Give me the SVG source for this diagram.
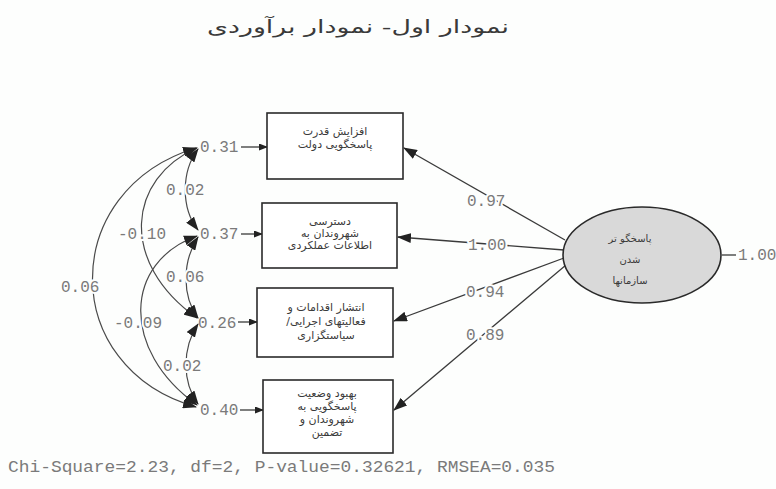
<svg xmlns="http://www.w3.org/2000/svg" width="776" height="489" viewBox="0 0 776 489">
  <style>
    .bg { fill: #fdfefd; }
    .box { fill: #ffffff; stroke: #2a2a2a; stroke-width: 1.6; }
    .fa { font-family: "DejaVu Sans", "Noto Sans", sans-serif; fill: #3a3a3a; text-anchor: middle; direction: rtl; }
    .num { font-family: "Liberation Mono", "DejaVu Sans Mono", monospace; font-size: 16px; fill: #7a7a7a; }
    .halo { paint-order: stroke; stroke: #fdfefd; stroke-width: 4px; stroke-linejoin: round; }
    .edge { fill: none; stroke: #3a3a3a; stroke-width: 1.3; }
    .cov { fill: none; stroke: #4a4a4a; stroke-width: 1.2; }
  </style>
  <defs>
    <marker id="head" markerUnits="userSpaceOnUse" markerWidth="14" markerHeight="10" refX="13" refY="5" orient="auto-start-reverse">
      <path d="M0,0 L14,5 L0,10 Z" fill="#222"/>
    </marker>
    <marker id="small" markerUnits="userSpaceOnUse" markerWidth="9" markerHeight="7" refX="8" refY="3.5" orient="auto">
      <path d="M0,0 L9,3.5 L0,7 Z" fill="#222"/>
    </marker>
  </defs>

  <rect class="bg" x="0" y="0" width="776" height="489"/>

  <text class="fa" x="358" y="33" font-size="18" fill="#555" textLength="302" lengthAdjust="spacingAndGlyphs">نمودار اول- نمودار برآوردی</text>

  <!-- connectors -->
  <g id="connectors">
    <!-- loadings from the latent factor -->
    <line class="edge" x1="565" y1="240" x2="404" y2="148" marker-end="url(#head)"/>
    <line class="edge" x1="564" y1="250" x2="398" y2="237" marker-end="url(#head)"/>
    <line class="edge" x1="564" y1="258" x2="394" y2="321" marker-end="url(#head)"/>
    <line class="edge" x1="566" y1="265" x2="394" y2="410" marker-end="url(#head)"/>
    <line class="edge" x1="722" y1="255" x2="736" y2="255"/>

    <!-- error terms -->
    <line class="edge" x1="241" y1="147" x2="267" y2="147" marker-end="url(#small)"/>
    <line class="edge" x1="241" y1="234" x2="262" y2="234" marker-end="url(#small)"/>
    <line class="edge" x1="238" y1="322" x2="257" y2="322" marker-end="url(#small)"/>
    <line class="edge" x1="240" y1="410" x2="263" y2="410" marker-end="url(#small)"/>

    <!-- error covariances -->
    <path class="cov" d="M196,148 C58,190 58,368 196,407" marker-start="url(#head)" marker-end="url(#head)"/>
    <path class="cov" d="M197,148 C128,178 118,262 197,318" marker-start="url(#head)" marker-end="url(#head)"/>
    <path class="cov" d="M197,236 C124,262 120,350 197,405" marker-start="url(#head)" marker-end="url(#head)"/>
    <path class="cov" d="M198,149 C181,172 181,208 198,230" marker-start="url(#head)" marker-end="url(#head)"/>
    <path class="cov" d="M198,237 C182,262 182,296 198,318" marker-start="url(#head)" marker-end="url(#head)"/>
    <path class="cov" d="M198,324 C182,348 182,382 198,404" marker-start="url(#head)" marker-end="url(#head)"/>
  </g>

  <!-- numeric labels -->
  <g id="labels">
    <text class="num" x="200" y="152">0.31</text>
    <text class="num" x="200" y="239">0.37</text>
    <text class="num" x="198" y="328">0.26</text>
    <text class="num" x="200" y="415">0.40</text>

    <text class="num halo" x="166" y="195">0.02</text>
    <text class="num halo" x="118" y="239">-0.10</text>
    <text class="num halo" x="166" y="282">0.06</text>
    <text class="num halo" x="114" y="328">-0.09</text>
    <text class="num halo" x="163" y="371">0.02</text>
    <text class="num halo" x="61" y="292">0.06</text>

    <text class="num halo" x="467" y="206">0.97</text>
    <text class="num halo" x="468" y="250">1.00</text>
    <text class="num halo" x="466" y="297">0.94</text>
    <text class="num halo" x="466" y="340">0.89</text>
    <text class="num" x="738" y="260">1.00</text>
  </g>

  <g id="box1">
    <rect class="box" x="267" y="113" width="136" height="66"/>
    <text class="fa" x="335" y="135" font-size="11">افزایش قدرت</text>
    <text class="fa" x="335" y="148" font-size="11">پاسخگویی دولت</text>
  </g>

  <g id="box2">
    <rect class="box" x="262" y="203" width="135" height="65"/>
    <text class="fa" x="330" y="225" font-size="11">دسترسی</text>
    <text class="fa" x="330" y="237" font-size="11">شهروندان به</text>
    <text class="fa" x="330" y="249" font-size="11">اطلاعات عملکردی</text>
  </g>

  <g id="box3">
    <rect class="box" x="257" y="288" width="136" height="69"/>
    <text class="fa" x="326" y="311" font-size="11">انتشار اقدامات و</text>
    <text class="fa" x="326" y="325" font-size="11">فعالیتهای اجرایی/</text>
    <text class="fa" x="326" y="339" font-size="11">سیاستگزاری</text>
  </g>

  <g id="box4">
    <rect class="box" x="263" y="380" width="130" height="73"/>
    <text class="fa" x="327" y="397" font-size="11">بهبود وضعیت</text>
    <text class="fa" x="327" y="410" font-size="11">پاسخگویی به</text>
    <text class="fa" x="327" y="423" font-size="11">شهروندان و</text>
    <text class="fa" x="327" y="436" font-size="11">تضمین</text>
  </g>

  <g id="factor">
    <ellipse cx="642" cy="255" rx="79" ry="48" fill="#d9d9d9" stroke="#2a2a2a" stroke-width="1.6"/>
    <text class="fa" x="630" y="242" font-size="10">پاسخگو تر</text>
    <text class="fa" x="630" y="263" font-size="10">شدن</text>
    <text class="fa" x="630" y="284" font-size="10">سازمانها</text>
  </g>

  <text class="num" x="8" y="472" font-size="16" textLength="547" lengthAdjust="spacingAndGlyphs">Chi-Square=2.23, df=2, P-value=0.32621, RMSEA=0.035</text>
</svg>
